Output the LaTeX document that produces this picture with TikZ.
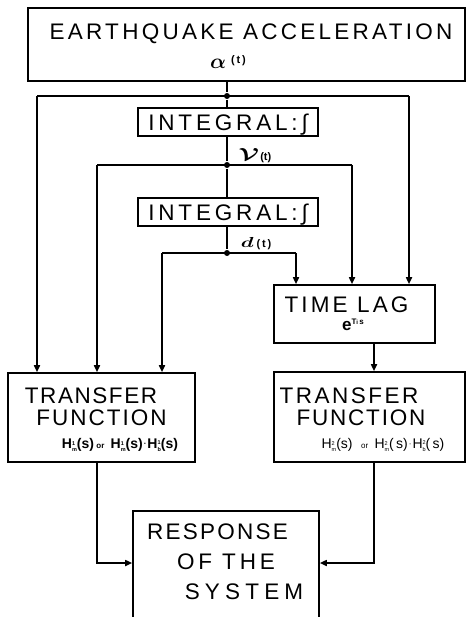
\documentclass[tikz,border=0pt]{standalone}
\usepackage{fontspec}
\usepackage{amsmath}
\setmainfont{Liberation Sans}
\usetikzlibrary{arrows.meta}
\newcommand{\LS}[2]{{\addfontfeatures{LetterSpace=#1}#2}}
\newcommand{\Hlab}[2]{H\raisebox{-3.5pt}{\fontsize{5.5}{7.5}\selectfont\shortstack[l]{#1\\#2}}}
\newcommand{\mdot}{\kern1pt\raisebox{2pt}{\fontsize{8}{8}\selectfont\char"00B7}\kern1pt}
\begin{document}
\begin{tikzpicture}[x=1pt,y=-1pt,line width=1.6pt,
  box/.style={draw,rectangle,inner sep=0pt},
  big/.style={font=\fontsize{22.5}{24}\selectfont,inner sep=0pt,text height=16.1pt,text depth=0pt,anchor=center},
  small/.style={inner sep=0pt,anchor=center},
  arr/.style={-{Triangle[length=7pt,width=6pt]}},
  dot/.style={circle,fill,inner sep=0pt,minimum size=6pt}]
\useasboundingbox (0,0) rectangle (466,617);
\clip (0,0) rectangle (466,617);
\fill[white] (0,0) rectangle (466,617);
% boxes
\node[box,minimum width=437pt,minimum height=73pt] (top) at (246.5,44.5) {};
\node[box,minimum width=180pt,minimum height=28pt] (int1) at (228,122) {};
\node[box,minimum width=180pt,minimum height=28pt] (int2) at (228,212) {};
\node[box,minimum width=161pt,minimum height=58pt] (lag) at (354.5,314) {};
\node[box,minimum width=187pt,minimum height=89pt] (tf1) at (101.5,417.5) {};
\node[box,minimum width=191pt,minimum height=90pt] (tf2) at (369.5,417) {};
\node[box,minimum width=186pt,minimum height=129pt] (resp) at (226,575.5) {};
% texts
\node[big] (teq) at (251,31.5) {\LS{14.5}{EARTHQUAKE ACCELERATION}};
\node[small] (tal) at (228,62) {\scalebox{2.1}{$\boldsymbol{\alpha}$}\hspace{5pt}\raisebox{5pt}{\fontsize{11}{11}\selectfont\bfseries(\,t\,)}};
\node[big] (ti1) at (228,122) {\LS{17}{INTEGRAL:\char"222B}};
\node[small] (tv) at (255,156) {\scalebox{2.5}[1.75]{$\boldsymbol{\mathcal{V}}$}\hspace{1pt}{\fontsize{11}{11}\selectfont\bfseries(t)}};
\node[big] (ti2) at (228,212) {\LS{17}{INTEGRAL:\char"222B}};
\node[small] (td) at (256,244) {\scalebox{2.1}[1.45]{$\boldsymbol{d}$}\hspace{3pt}{\fontsize{11}{11}\selectfont\bfseries(\,t\,)}};
\node[big] (tlag) at (346.5,304) {\LS{14}{TIME LAG}};
\node[small] (texp) at (353,325) {{\fontsize{17}{17}\selectfont\bfseries e}\raisebox{6pt}{\fontsize{8}{8}\selectfont\bfseries T{\fontsize{6}{6}\selectfont i}\,s}};
\node[big] (tt1) at (91,395) {\LS{7}{TRANSFER}};
\node[big] (tf1a) at (101.5,417.5) {\LS{9}{FUNCTION}};
\node[small] (th1) at (120,445) {\fontsize{14}{14}\selectfont\bfseries \Hlab{1}{m}(s)\,{\fontsize{8}{8}\selectfont or}\, \Hlab{1}{m}(s)\mdot\Hlab{1}{b}(s)};
\node[big] (tt2) at (349,395) {\LS{11}{TRANSFER}};
\node[big] (tf2a) at (361,417.5) {\LS{8}{FUNCTION}};
\node[small] (th2) at (383,445) {\fontsize{14}{14}\selectfont \Hlab{2}{m}(s)\,\, {\fontsize{8}{8}\selectfont or}\, \Hlab{2}{m}(\,s)\mdot\Hlab{2}{b}(\,s)};
\node[big] (tr1) at (217.5,531.5) {\LS{10}{RESPONSE}};
\node[big] (tr2) at (226,561.5) {\LS{17}{OF THE}};
\node[big] (tr3) at (244,591) {\LS{23}{SYSTEM}};
% junctions
\node[dot] (j1) at (227,96) {};
\node[dot] (j2) at (227,165) {};
\node[dot] (j3) at (227,253) {};
\coordinate (a1L) at (37,96);  \coordinate (a1R) at (409,96);
\coordinate (a2L) at (97,165); \coordinate (a2R) at (352,165);
\coordinate (a3L) at (162,253); \coordinate (a3R) at (296,253);
\coordinate (b1) at (97,563); \coordinate (b2) at (374,563);
% connectors
\draw (top.south -| j1) -- (j1) -- (int1.north -| j1);
\draw (int1.south -| j2) -- (j2) -- (int2.north -| j2);
\draw (int2.south -| j3) -- (j3);
\draw (a1L) -- (a1R);
\draw (a2L) -- (a2R);
\draw (a3L) -- (a3R);
\draw[arr] (a1L) -- (a1L |- tf1.north);
\draw[arr] (a2L) -- (a2L |- tf1.north);
\draw[arr] (a3L) -- (a3L |- tf1.north);
\draw[arr] (a1R) -- (a1R |- lag.north);
\draw[arr] (a2R) -- (a2R |- lag.north);
\draw[arr] (a3R) -- (a3R |- lag.north);
\draw[arr] (lag.south -| b2) -- (tf2.north -| b2);
\draw[arr] (tf1.south -| b1) -- (b1) -- (resp.west |- b1);
\draw[arr] (tf2.south -| b2) -- (b2) -- (resp.east |- b2);
\end{tikzpicture}
\end{document}
